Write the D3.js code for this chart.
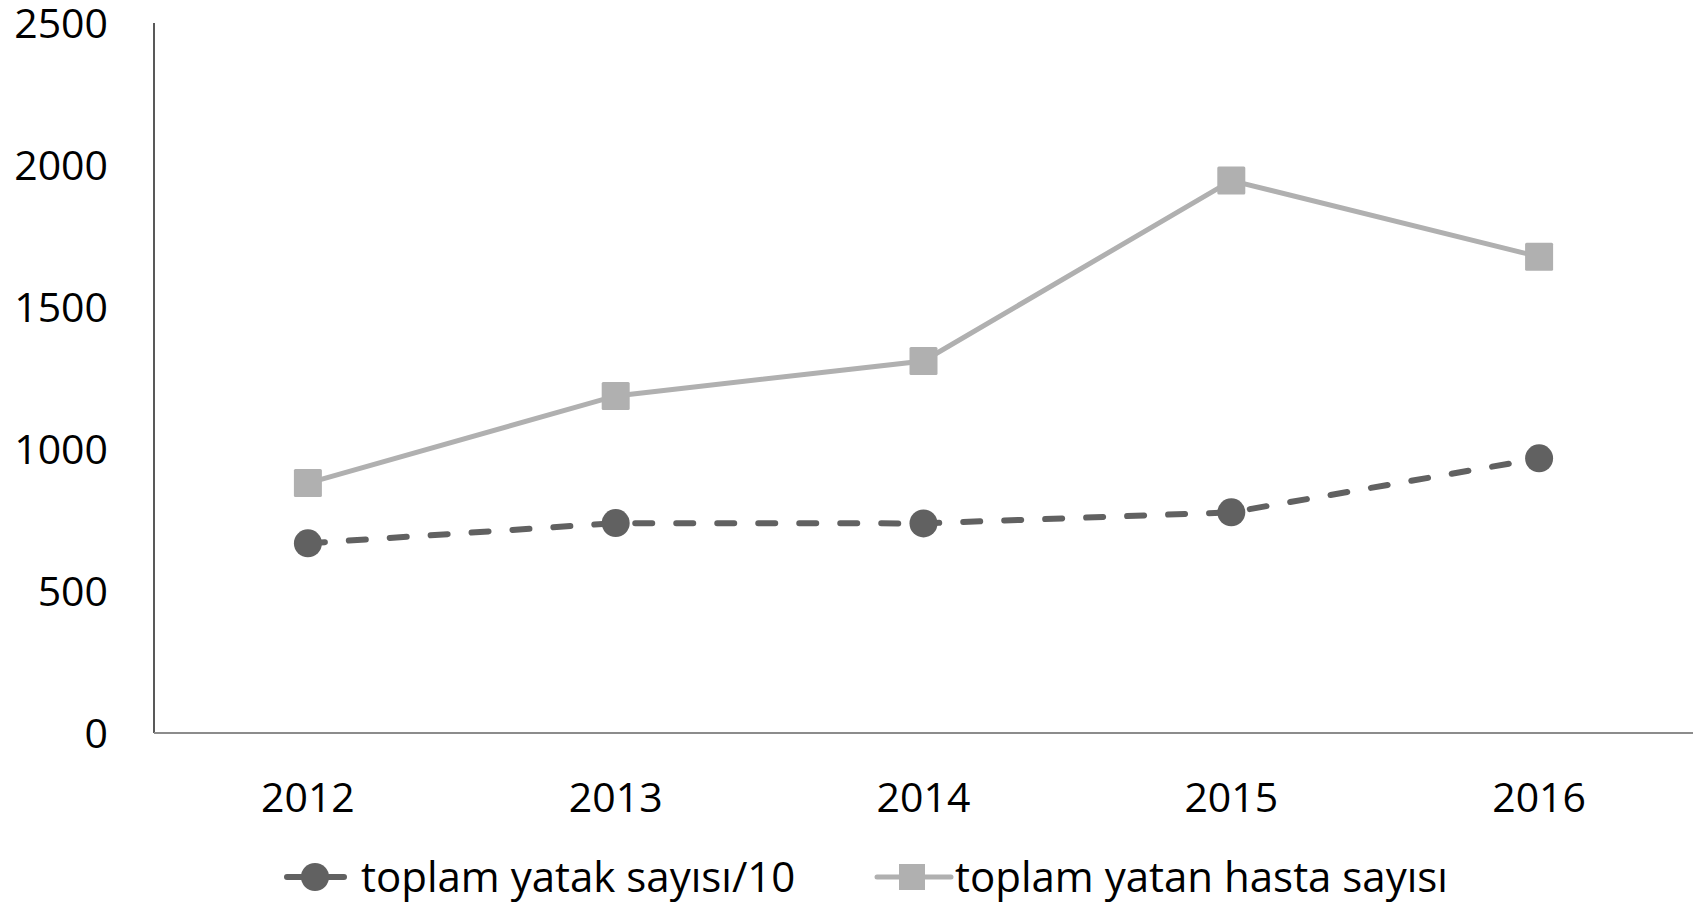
<!DOCTYPE html>
<html>
<head>
<meta charset="utf-8">
<script src="https://cdn.jsdelivr.net/npm/d3@7"></script>
<style>
  html, body { margin: 0; padding: 0; background: #fff; }
  svg { display: block; }
  text { font-family: "Open Sans", "Noto Sans", sans-serif; fill: #000; }
</style>
</head>
<body>
<svg id="chart"></svg>
<script>
// data
const years = ['2012', '2013', '2014', '2015', '2016'];
const yatakValues = [668, 739, 738, 777, 967];      // toplam yatak sayısı/10
const hastaValues = [880, 1187, 1310, 1945, 1677];  // toplam yatan hasta sayısı
const yTicks = [0, 500, 1000, 1500, 2000, 2500];
const seriesNames = ['toplam yatak sayısı/10', 'toplam yatan hasta sayısı'];

const W = 1706, H = 904;
const FONT = 41;

const svg = d3.select('#chart').attr('width', W).attr('height', H);

const x = d3.scalePoint().domain(years).range([154, 1693]).padding(0.5);
const y = d3.scaleLinear().domain([0, 2500]).range([733, 23]);

// axes
svg.append('line')
  .attr('x1', 154).attr('x2', 154)
  .attr('y1', y(2500)).attr('y2', y(0))
  .attr('stroke', '#595959').attr('stroke-width', 2);
svg.append('line')
  .attr('x1', 154).attr('x2', 1693)
  .attr('y1', y(0)).attr('y2', y(0))
  .attr('stroke', '#8c8c8c').attr('stroke-width', 2);

// y tick labels
svg.append('g').selectAll('text')
  .data(yTicks).join('text')
    .attr('x', 108)
    .attr('y', d => y(d))
    .attr('dy', '0.36em')
    .attr('text-anchor', 'end')
    .attr('font-size', FONT)
    .text(d => d);

// x tick labels
svg.append('g').selectAll('text')
  .data(years).join('text')
    .attr('x', d => x(d))
    .attr('y', 797)
    .attr('dy', '0.36em')
    .attr('text-anchor', 'middle')
    .attr('font-size', FONT)
    .text(d => d);

const line = d3.line().x(d => x(d.year)).y(d => y(d.v));
const hasta = years.map((yr, i) => ({ year: yr, v: hastaValues[i] }));
const yatak = years.map((yr, i) => ({ year: yr, v: yatakValues[i] }));

// hasta series: solid light grey + squares
svg.append('path')
  .datum(hasta)
  .attr('d', line)
  .attr('fill', 'none')
  .attr('stroke', '#b0b0b0')
  .attr('stroke-width', 5);
svg.append('g').selectAll('rect')
  .data(hasta).join('rect')
    .attr('x', d => x(d.year) - 14)
    .attr('y', d => y(d.v) - 14)
    .attr('width', 28).attr('height', 28)
    .attr('rx', 1.5)
    .attr('fill', '#b0b0b0');

// yatak series: dashed dark grey + circles
svg.append('path')
  .datum(yatak)
  .attr('d', line)
  .attr('fill', 'none')
  .attr('stroke', '#616161')
  .attr('stroke-width', 6)
  .attr('stroke-linecap', 'round')
  .attr('stroke-dasharray', '17,24');
svg.append('g').selectAll('circle')
  .data(yatak).join('circle')
    .attr('cx', d => x(d.year))
    .attr('cy', d => y(d.v))
    .attr('r', 14)
    .attr('fill', '#616161');

// legend
const ly = 877;
const leg1 = svg.append('g');
leg1.append('line')
  .attr('x1', 287).attr('x2', 344).attr('y1', ly).attr('y2', ly)
  .attr('stroke', '#616161').attr('stroke-width', 6).attr('stroke-linecap', 'round');
leg1.append('circle').attr('cx', 315).attr('cy', ly).attr('r', 14).attr('fill', '#616161');
leg1.append('text')
  .attr('x', 361).attr('y', ly).attr('dy', '0.36em')
  .attr('font-size', 42)
  .text(seriesNames[0]);

const leg2 = svg.append('g');
leg2.append('line')
  .attr('x1', 877).attr('x2', 951).attr('y1', ly).attr('y2', ly)
  .attr('stroke', '#b0b0b0').attr('stroke-width', 5).attr('stroke-linecap', 'round');
leg2.append('rect')
  .attr('x', 899).attr('y', ly - 13).attr('width', 26).attr('height', 26)
  .attr('fill', '#b0b0b0');
leg2.append('text')
  .attr('x', 955).attr('y', ly).attr('dy', '0.36em')
  .attr('font-size', 42)
  .text(seriesNames[1]);
</script>
</body>
</html>
